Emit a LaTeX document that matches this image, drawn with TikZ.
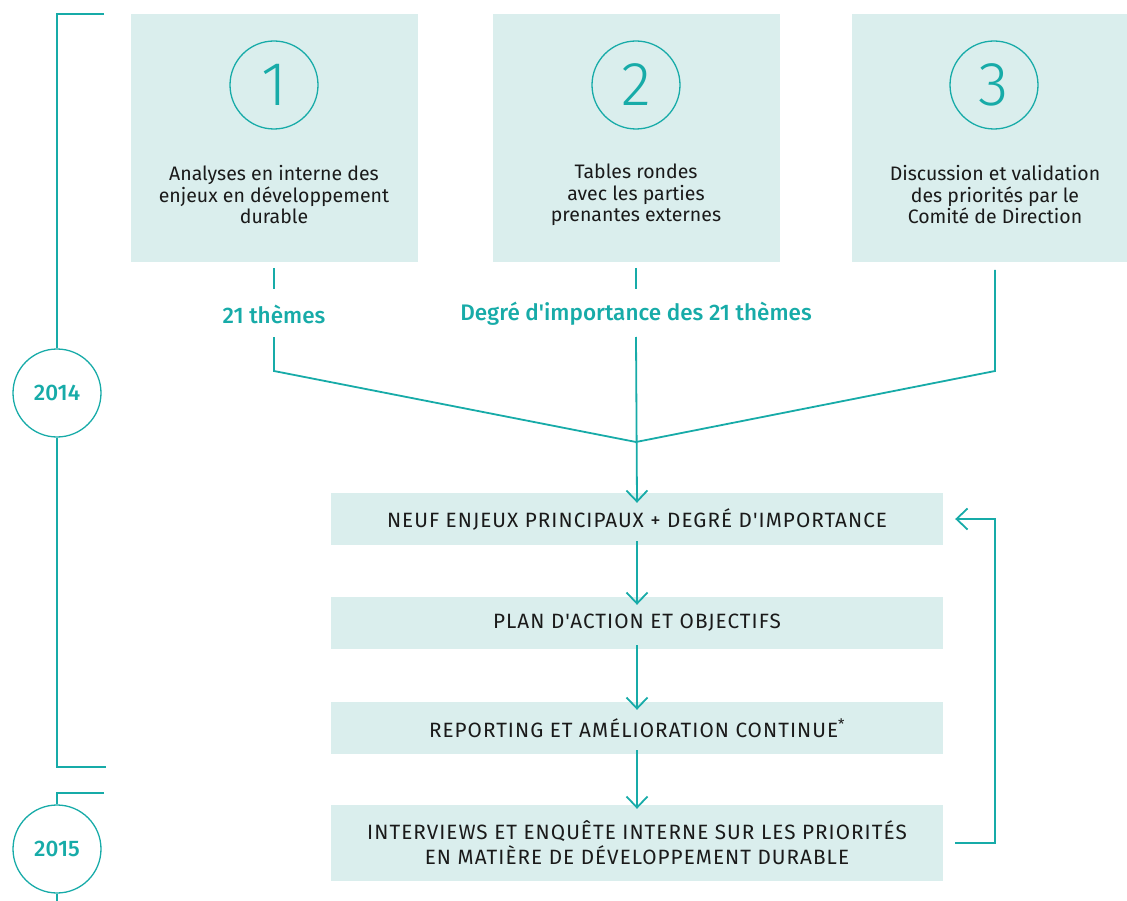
\documentclass[tikz,border=0pt]{standalone}
\usepackage{fontspec}
\setmainfont{Fira Sans}
\newfontfamily\condfont[LetterSpace=5]{Fira Sans}
\newfontfamily\boldfont{Fira Sans}[UprightFont=* Medium]
\newfontfamily\lightfont{Fira Sans}[UprightFont=* Light]
\usetikzlibrary{arrows.meta}
\definecolor{teal1}{HTML}{17ABA8}
\definecolor{boxfill}{HTML}{DAEEED}
\definecolor{ink}{HTML}{1A1A1A}
\tikzset{
  topbox/.style={fill=boxfill, inner sep=0pt, minimum width=287pt, minimum height=248pt},
  lowbox/.style={fill=boxfill, inner sep=0pt, minimum width=612pt, text=ink, font=\condfont\fontsize{20.7}{25}\selectfont, align=center},
  numcirc/.style={circle, draw=teal1, line width=1.3pt, minimum size=88pt, inner sep=0pt, text=teal1, font=\lightfont\fontsize{62}{62}\selectfont},
  yearcirc/.style={circle, draw=teal1, line width=1.3pt, minimum size=88pt, inner sep=0pt, text=teal1, font=\boldfont\fontsize{22.5}{22.5}\selectfont},
  boxtext/.style={text=ink, align=center, font=\fontsize{19.5}{21.5}\selectfont, inner sep=0pt},
  lbl/.style={text=teal1, font=\boldfont\fontsize{22.5}{22.5}\selectfont, inner sep=0pt},
  conn/.style={draw=teal1, line width=1.8pt},
  arr/.style={conn, -{Straight Barb[length=11pt,width=21pt,line width=1.8pt]}},
  bracket/.style={draw=teal1, line width=1.4pt}
}
\begin{document}
\begin{tikzpicture}[x=1pt,y=-1pt]
\useasboundingbox (0,0) rectangle (1127,901);
% top boxes
\node[topbox] (b1) at (274.5,138) {};
\node[topbox] (b2) at (636,138) {};
\node[topbox] (b3) at (995.5,138) {};
\node[numcirc] (c1) at (274,85) {1};
\node[numcirc] (c2) at (636,85) {2};
\node[numcirc] (c3) at (994,85) {3};
\node[boxtext] (t1) at (274,195) {Analyses en interne des\\enjeux en développement\\durable};
\node[boxtext] (t2) at (636,195) {Tables rondes\\avec les parties\\prenantes externes};
\node[boxtext] (t3) at (995,195) {Discussion et validation\\des priorités par le\\Comité de Direction};
% labels
\node[lbl] (l1) at (274,314) {21 thèmes};
\node[lbl] (l2) at (636,314) {Degré d'importance des 21 thèmes};
% lower boxes
\node[lowbox, minimum height=52pt] (n1) at (637,519) {NEUF ENJEUX PRINCIPAUX + DEGRÉ D'IMPORTANCE};
\node[lowbox, minimum height=52pt] (n2) at (637,623) {PLAN D'ACTION ET OBJECTIFS};
\node[lowbox, minimum height=52pt] (n3) at (637,728) {REPORTING ET AMÉLIORATION CONTINUE\textsuperscript{*}};
\node[lowbox, minimum height=76pt] (n4) at (637,843) {INTERVIEWS ET ENQUÊTE INTERNE SUR LES PRIORITÉS\\EN MATIÈRE DE DÉVELOPPEMENT DURABLE};
% coordinates
\coordinate (s1a) at (274,268); \coordinate (s1b) at (274,289);
\coordinate (s2a) at (636,268); \coordinate (s2b) at (636,289);
\coordinate (d1) at (274,337); \coordinate (k1) at (274,371);
\coordinate (d2) at (636,337);
\coordinate (d3) at (995,270); \coordinate (k3) at (995,371);
\coordinate (m) at (636,442);
\coordinate (fb) at (995,843); \coordinate (ft) at (995,519);
% connectors
\draw[conn] (s1a) -- (s1b);
\draw[conn] (s2a) -- (s2b);
\draw[conn] (d1) -- (k1) -- (m);
\draw[conn] (d3) -- (k3) -- (m);
\draw[arr] (d2) -- ([yshift=-10pt]n1.north);
\draw[arr] ([yshift=4pt]n1.south) -- ([yshift=-8pt]n2.north);
\draw[arr] ([yshift=4pt]n2.south) -- ([yshift=-8pt]n3.north);
\draw[arr] ([yshift=4pt]n3.south) -- ([yshift=-4pt]n4.north);
\draw[arr] ([xshift=12pt]n4.east |- fb) -- (fb) -- (ft) -- ([xshift=12pt]n1.east);
% year brackets
\node[yearcirc] (y1) at (57,393) {2014};
\node[yearcirc] (y2) at (57,849) {2015};
\coordinate (y1t) at (104,14); \coordinate (y1tc) at (57,14);
\coordinate (y1b) at (106,767); \coordinate (y1bc) at (57,767);
\coordinate (y2t) at (104,793); \coordinate (y2tc) at (57,793);
\coordinate (y2b) at (57,901);
\draw[bracket] (y1t) -- (y1tc) -- (y1.north);
\draw[bracket] (y1.south) -- (y1bc) -- (y1b);
\draw[bracket] (y2t) -- (y2tc) -- (y2.north);
\draw[bracket] (y2.south) -- (y2b);
\end{tikzpicture}
\end{document}
